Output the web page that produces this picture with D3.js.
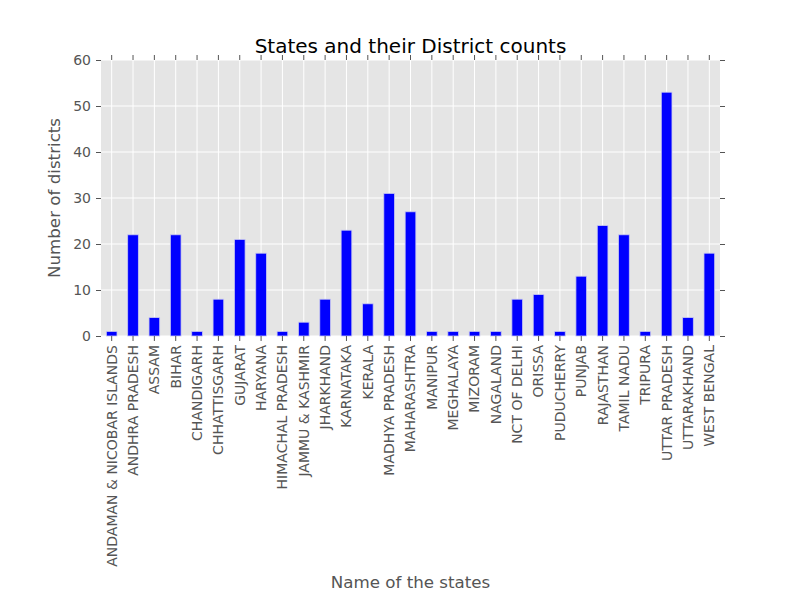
<!DOCTYPE html>
<html>
<head>
<meta charset="utf-8">
<script src="https://cdnjs.cloudflare.com/ajax/libs/d3/7.8.5/d3.min.js"></script>
<style>
  body { margin: 0; background: #fff; }
  text { font-family: "DejaVu Sans", sans-serif; }
</style>
</head>
<body>
<div id="chart"></div>
<script>
const states = [
    'ANDAMAN & NICOBAR ISLANDS', 'ANDHRA PRADESH', 'ASSAM', 'BIHAR', 'CHANDIGARH',
    'CHHATTISGARH', 'GUJARAT', 'HARYANA', 'HIMACHAL PRADESH', 'JAMMU & KASHMIR',
    'JHARKHAND', 'KARNATAKA', 'KERALA', 'MADHYA PRADESH', 'MAHARASHTRA',
    'MANIPUR', 'MEGHALAYA', 'MIZORAM', 'NAGALAND', 'NCT OF DELHI',
    'ORISSA', 'PUDUCHERRY', 'PUNJAB', 'RAJASTHAN', 'TAMIL NADU',
    'TRIPURA', 'UTTAR PRADESH', 'UTTARAKHAND', 'WEST BENGAL'
];
const districtCounts = [
    1, 22, 4, 22, 1,
    8, 21, 18, 1, 3,
    8, 23, 7, 31, 27,
    1, 1, 1, 1, 8,
    9, 1, 13, 24, 22,
    1, 53, 4, 18
];
const yTicks = [0, 10, 20, 30, 40, 50, 60];

const width = 800;
const height = 600;
const margin = { top: 60, right: 80, bottom: 264, left: 101 };
const innerW = width - margin.left - margin.right;
const innerH = height - margin.top - margin.bottom;

const svg = d3.select('#chart')
    .append('svg')
    .attr('width', width)
    .attr('height', height);

const g = svg.append('g')
    .attr('transform', `translate(${margin.left},${margin.top})`);

const x = d3.scaleBand()
    .domain(states)
    .range([0, innerW])
    .paddingInner(0.5)
    .paddingOuter(0.25);

const y = d3.scaleLinear()
    .domain([0, 60])
    .range([innerH, 0]);

// panel background
g.append('rect')
    .attr('width', innerW)
    .attr('height', innerH)
    .attr('fill', '#e5e5e5');

// grid lines
g.append('g')
    .selectAll('line')
    .data(yTicks)
    .enter().append('line')
    .attr('x1', 0)
    .attr('x2', innerW)
    .attr('y1', d => y(d))
    .attr('y2', d => y(d))
    .attr('stroke', '#fff')
    .attr('stroke-width', 1);

g.append('g')
    .selectAll('line')
    .data(states)
    .enter().append('line')
    .attr('x1', d => x(d) + x.bandwidth() / 2)
    .attr('x2', d => x(d) + x.bandwidth() / 2)
    .attr('y1', 0)
    .attr('y2', innerH)
    .attr('stroke', '#fff')
    .attr('stroke-width', 1);

// bars
g.append('g')
    .selectAll('rect')
    .data(states)
    .enter().append('rect')
    .attr('x', d => x(d))
    .attr('y', (d, i) => y(districtCounts[i]))
    .attr('width', x.bandwidth())
    .attr('height', (d, i) => innerH - y(districtCounts[i]))
    .attr('fill', '#0000ff')
    .attr('stroke', '#c8c8f0')
    .attr('stroke-width', 0.8);

// axes
function styleAxis(sel) {
    sel.select('.domain').remove();
    sel.selectAll('.tick line').attr('stroke', '#555').attr('stroke-width', 1);
    sel.selectAll('.tick text')
        .attr('fill', '#555')
        .style('font-size', '14px')
        .style('font-family', '"DejaVu Sans", sans-serif');
}

const xAxis = g.append('g')
    .attr('transform', `translate(0,${innerH})`)
    .call(d3.axisBottom(x).tickSize(5).tickPadding(4))
    .call(styleAxis);

xAxis.selectAll('.tick text')
    .attr('transform', 'rotate(-90)')
    .attr('text-anchor', 'end')
    .attr('x', -9)
    .attr('y', 0)
    .attr('dy', '0.35em');

g.append('g')
    .call(d3.axisTop(x).tickSize(5).tickFormat(''))
    .call(styleAxis);

g.append('g')
    .call(d3.axisLeft(y).tickValues(yTicks).tickSize(5).tickPadding(5))
    .call(styleAxis);

g.append('g')
    .attr('transform', `translate(${innerW},0)`)
    .call(d3.axisRight(y).tickValues(yTicks).tickSize(5).tickFormat(''))
    .call(styleAxis);

// title and labels
svg.append('text')
    .attr('x', margin.left + innerW / 2)
    .attr('y', 53)
    .attr('text-anchor', 'middle')
    .attr('fill', '#000')
    .style('font-size', '20px')
    .text('States and their District counts');

svg.append('text')
    .attr('x', margin.left + innerW / 2)
    .attr('y', 588)
    .attr('text-anchor', 'middle')
    .attr('fill', '#555')
    .style('font-size', '16.7px')
    .text('Name of the states');

svg.append('text')
    .attr('transform', `translate(60,${margin.top + innerH / 2}) rotate(-90)`)
    .attr('text-anchor', 'middle')
    .attr('fill', '#555')
    .style('font-size', '16.7px')
    .text('Number of districts');
</script>
</body>
</html>
